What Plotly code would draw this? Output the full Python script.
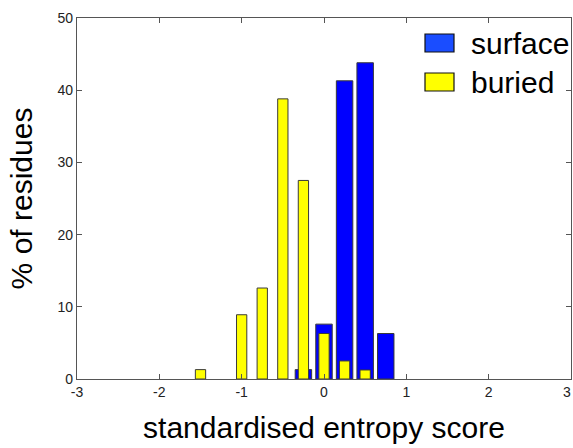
import plotly.graph_objects as go

# data
surface_x = [-0.25, 0.0, 0.25, 0.5, 0.75]
surface_pct = [1.3, 7.6, 41.3, 43.8, 6.3]
buried_x = [-1.5, -1.0, -0.75, -0.5, -0.25, 0.0, 0.25, 0.5]
buried_pct = [1.3, 8.9, 12.6, 38.8, 27.5, 6.3, 2.5, 1.25]
x_ticks = [-3, -2, -1, 0, 1, 2, 3]
y_ticks = [0, 10, 20, 30, 40, 50]
legend_labels = ["surface", "buried"]

FONT = "Liberation Sans, Arial, Helvetica, sans-serif"
EDGE = "#3a3a3a"
AXIS = "#555555"
TICKFONT = dict(family=FONT, size=14, color="#222222")

fig = go.Figure()
fig.add_trace(go.Bar(x=surface_x, y=surface_pct, width=0.2, name=legend_labels[0],
                     marker=dict(color="#0000ff", line=dict(color=EDGE, width=1)),
                     showlegend=False))
fig.add_trace(go.Bar(x=buried_x, y=buried_pct, width=0.125, name=legend_labels[1],
                     marker=dict(color="#ffff00", line=dict(color=EDGE, width=1)),
                     showlegend=False))

# manual legend (Matlab style)
leg_colors = ["#1a4dff", "#ffff00"]
leg_y = [43, 82]  # pixel centres from top
plot_left, plot_w = 77, 494
plot_top, plot_h = 18, 361
for lab, col, yc in zip(legend_labels, leg_colors, leg_y):
    y_top = 1 - (yc - 9 - plot_top) / plot_h
    y_bot = 1 - (yc + 9 - plot_top) / plot_h
    fig.add_shape(type="rect", xref="paper", yref="paper",
                  x0=(425 - plot_left) / plot_w, x1=(454 - plot_left) / plot_w,
                  y0=y_bot, y1=y_top,
                  fillcolor=col, line=dict(color="#111111", width=1.2))
    fig.add_annotation(xref="paper", yref="paper", x=(469 - plot_left) / plot_w,
                       y=1 - (yc - plot_top) / plot_h, text=lab, showarrow=False,
                       xanchor="left", yanchor="middle",
                       font=dict(family=FONT, size=30, color="#000000"))

# last x tick label, kept just inside the figure edge
fig.add_annotation(x=x_ticks[-1], xref="x", y=0, yref="paper", yshift=-3, xshift=2,
                   text=str(x_ticks[-1]), showarrow=False, xanchor="right", yanchor="top",
                   font=TICKFONT)

fig.update_layout(
    width=573, height=448,
    margin=dict(l=77, r=2, t=18, b=69),
    paper_bgcolor="white", plot_bgcolor="white",
    barmode="overlay",
    font=TICKFONT,
    xaxis=dict(range=[-3, 3], tickvals=x_ticks[:-1], ticktext=[str(v) for v in x_ticks[:-1]],
               showgrid=False, zeroline=False, showline=True, linecolor=AXIS, linewidth=1.2,
               mirror="ticks", ticks="inside", ticklen=5, tickcolor=AXIS,
               title=dict(text="standardised entropy score", font=dict(size=30, color="#000000"), standoff=18)),
    yaxis=dict(range=[0, 50], tickvals=y_ticks, showgrid=False, zeroline=False,
               showline=True, linecolor=AXIS, linewidth=1.2, mirror="ticks",
               ticks="inside", ticklen=5, tickcolor=AXIS,
               title=dict(text="% of residues", font=dict(size=30, color="#000000"), standoff=16)),
)

fig.write_html("out.html", config={"displayModeBar": False},
               post_script="document.body.style.margin='0px';")
